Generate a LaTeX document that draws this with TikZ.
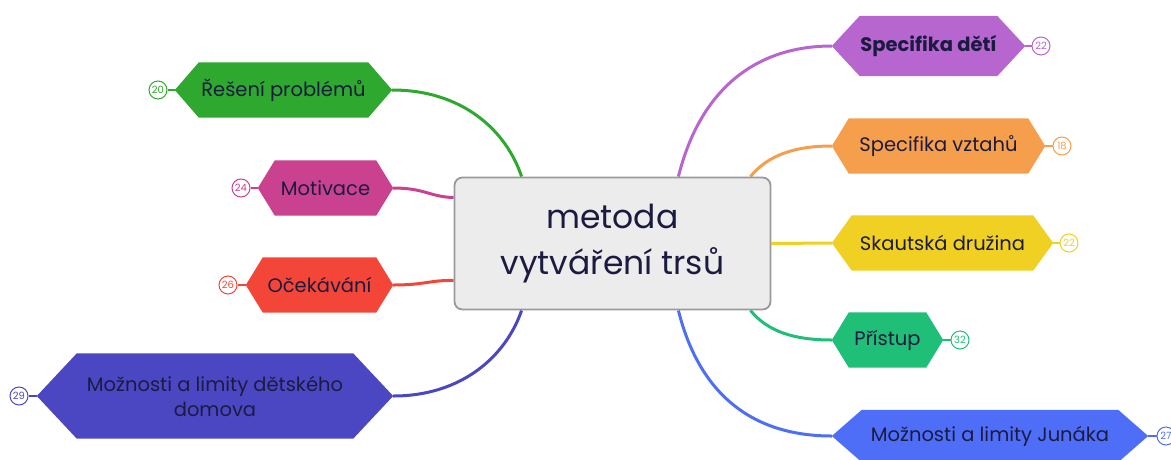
\documentclass[tikz,border=0pt]{standalone}
\usepackage{fontspec}
\setmainfont{Poppins}
\usetikzlibrary{calc}
\pgfdeclarelayer{bg}
\pgfsetlayers{bg,main}
\definecolor{ink}{HTML}{1B1B40}
\definecolor{cRes}{HTML}{2EA82E}
\definecolor{cMot}{HTML}{C9418F}
\definecolor{cOce}{HTML}{F44638}
\definecolor{cDom}{HTML}{4B47C2}
\definecolor{cDet}{HTML}{B765CF}
\definecolor{cVzt}{HTML}{F59E4C}
\definecolor{cSku}{HTML}{F0D023}
\definecolor{cPri}{HTML}{1FBF78}
\definecolor{cJun}{HTML}{4F6EF7}
\definecolor{boxfill}{HTML}{ECECEC}
\definecolor{boxline}{HTML}{9A9A9A}
\tikzset{
  hexlabel/.style={inner sep=0pt, align=center, text=ink, font=\fontsize{19.5}{25}\selectfont},
  numc/.style={circle, fill=white, line width=1pt, minimum size=18pt, inner sep=0pt, font=\fontsize{10}{10}\selectfont},
  branch/.style={line width=3pt},
  stub/.style={line width=1.5pt},
}
\newcommand{\hexbranch}[8]{%
  \pgfmathsetmacro\hxw{#3-#2-2*#6}%
  \pgfmathsetmacro\hxc{(#2+#3)/2}%
  \node[hexlabel, minimum width=\hxw pt, minimum height=#5 pt] (#1) at (\hxc,#4) {#8};
  \begin{pgfonlayer}{bg}
  \fill[#7] (#1.north west) -- (#1.north east) -- ([xshift=#6 pt]#1.east) -- (#1.south east) -- (#1.south west) -- ([xshift=-#6 pt]#1.west) -- cycle;
  \end{pgfonlayer}
  \coordinate (#1-l) at ([xshift=-#6 pt]#1.west);
  \coordinate (#1-r) at ([xshift=#6 pt]#1.east);
}
\begin{document}
\begin{tikzpicture}[x=1pt, y=-1pt]
\useasboundingbox (0,0) rectangle (1171,459);
% central node
\node[draw=boxline, fill=boxfill, line width=1.8pt, rounded corners=8pt, minimum width=316pt, minimum height=132pt, inner sep=0pt, align=center, text=ink, font=\fontsize{33}{46}\selectfont] (c) at (612.5,243.5) {metoda\\vytváření trsů};
\coordinate (c-tl) at ([xshift=68pt]c.north west);
\coordinate (c-tr) at ([xshift=-93pt]c.north east);
\coordinate (c-tr2) at ([xshift=-21pt]c.north east);
\coordinate (c-bl) at ([xshift=68pt]c.south west);
\coordinate (c-br) at ([xshift=-93pt]c.south east);
\coordinate (c-br2) at ([xshift=-21pt]c.south east);
\coordinate (c-l1) at ([yshift=46pt]c.west);
\coordinate (c-l2) at ([yshift=-37pt]c.west);

% left branches
\hexbranch{res}{175}{392}{90}{55}{24}{cRes}{Řešení problémů}
\hexbranch{mot}{258}{393}{188}{55}{17}{cMot}{Motivace}
\hexbranch{oce}{246}{393}{285}{55}{17}{cOce}{Očekávání}
\hexbranch{dom}{37}{393}{396}{85}{40}{cDom}{Možnosti a limity dětského\\domova}
% right branches
\hexbranch{det}{832}{1025}{46}{60}{28}{cDet}{\textbf{Specifika dětí}}
\hexbranch{vzt}{832}{1045}{146}{55}{17}{cVzt}{Specifika vztahů}
\hexbranch{sku}{832}{1053}{243}{55}{20}{cSku}{Skautská družina}
\hexbranch{pri}{832}{943}{340}{55}{17}{cPri}{Přístup}
\hexbranch{jun}{832}{1148}{436}{52}{30}{cJun}{Možnosti a limity Junáka}

% connectors
\begin{pgfonlayer}{bg}
\draw[branch, cRes] (res-r) .. controls (462,90) and (506,130) .. (c-tl);
\draw[branch, cMot] (mot-r) .. controls (425,188) and (430,197) .. (c-l1);
\draw[branch, cOce] (oce-r) .. controls (425,285) and (430,280) .. (c-l2);
\draw[branch, cDom] (dom-r) .. controls (462,396) and (506,356) .. (c-bl);
\draw[branch, cDet] (c-tr) .. controls (700,90) and (755,46) .. (det-l);
\draw[branch, cVzt] (c-tr2) .. controls (768,155) and (795,146) .. (vzt-l);
\draw[branch, cSku] (c.east) -- (sku-l);
\draw[branch, cPri] (c-br2) .. controls (768,332) and (795,340) .. (pri-l);
\draw[branch, cJun] (c-br) .. controls (700,397) and (755,436) .. (jun-l);
\end{pgfonlayer}

% number badges
\node[numc, draw=cRes, text=cRes] (res-n) at (158,90) {20};
\node[numc, draw=cMot, text=cMot] (mot-n) at (241,188) {24};
\node[numc, draw=cOce, text=cOce] (oce-n) at (228,285) {26};
\node[numc, draw=cDom, text=cDom] (dom-n) at (19,396) {29};
\node[numc, draw=cDet, text=cDet] (det-n) at (1041,46) {22};
\node[numc, draw=cVzt, text=cVzt] (vzt-n) at (1062,146) {18};
\node[numc, draw=cSku, text=cSku] (sku-n) at (1069,243) {22};
\node[numc, draw=cPri, text=cPri] (pri-n) at (960,340) {32};
\node[numc, draw=cJun, text=cJun] (jun-n) at (1166,436) {27};
\draw[stub, cRes] (res-n) -- (res-l);
\draw[stub, cMot] (mot-n) -- (mot-l);
\draw[stub, cOce] (oce-n) -- (oce-l);
\draw[stub, cDom] (dom-n) -- (dom-l);
\draw[stub, cDet] (det-r) -- (det-n);
\draw[stub, cVzt] (vzt-r) -- (vzt-n);
\draw[stub, cSku] (sku-r) -- (sku-n);
\draw[stub, cPri] (pri-r) -- (pri-n);
\draw[stub, cJun] (jun-r) -- (jun-n);
\end{tikzpicture}
\end{document}
